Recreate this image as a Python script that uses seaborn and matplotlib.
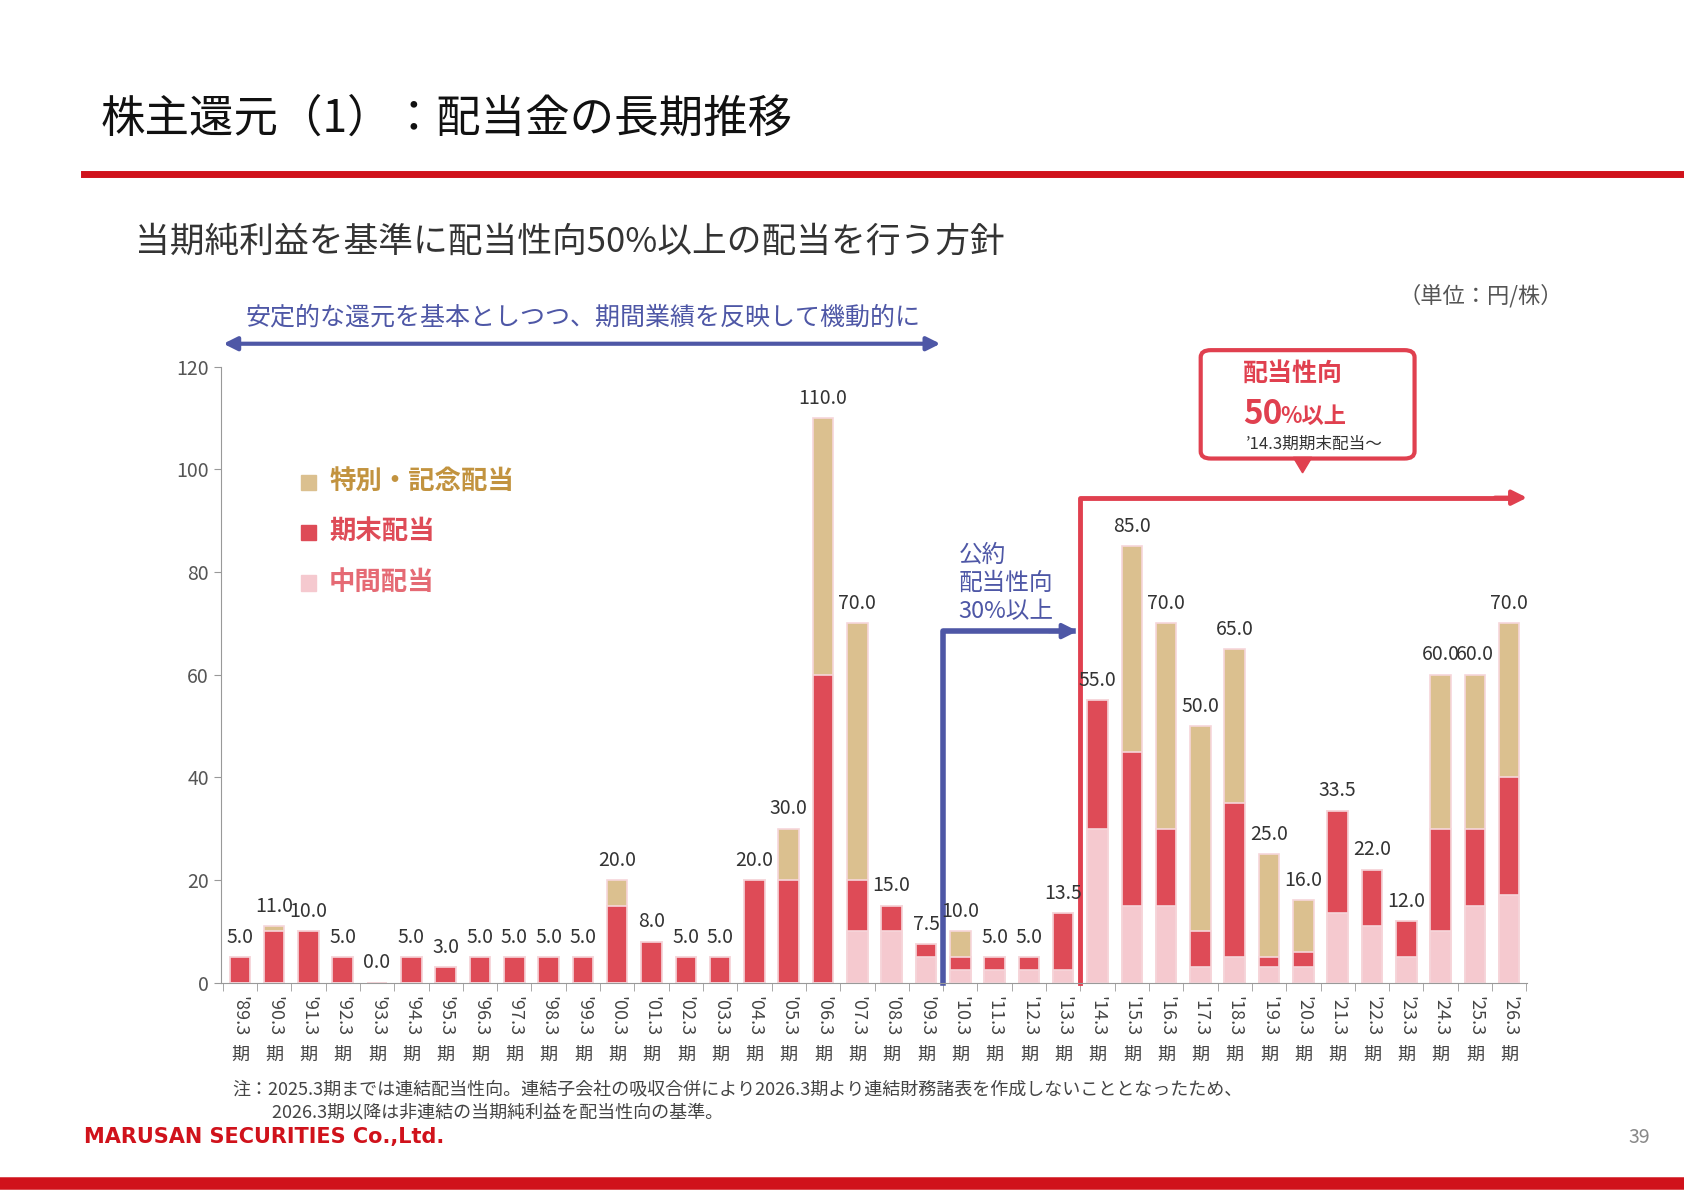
import numpy as np
import pandas as pd
import matplotlib.pyplot as plt
import seaborn as sns
from matplotlib.patches import FancyBboxPatch, Rectangle, Polygon

periods = ["'89.3", "'90.3", "'91.3", "'92.3", "'93.3", "'94.3", "'95.3", "'96.3", "'97.3", "'98.3",
           "'99.3", "'00.3", "'01.3", "'02.3", "'03.3", "'04.3", "'05.3", "'06.3", "'07.3", "'08.3",
           "'09.3", "'10.3", "'11.3", "'12.3", "'13.3", "'14.3", "'15.3", "'16.3", "'17.3", "'18.3",
           "'19.3", "'20.3", "'21.3", "'22.3", "'23.3", "'24.3", "'25.3", "'26.3"]
interim = [0, 0, 0, 0, 0, 0, 0, 0, 0, 0, 0, 0, 0, 0, 0, 0, 0, 0, 10, 10,
           5, 2.5, 2.5, 2.5, 2.5, 30, 15, 15, 3, 5, 3, 3, 13.5, 11, 5, 10, 15, 17]
year_end = [5, 10, 10, 5, 0, 5, 3, 5, 5, 5, 5, 15, 8, 5, 5, 20, 20, 60, 10, 5,
            2.5, 2.5, 2.5, 2.5, 11, 25, 30, 15, 7, 30, 2, 3, 20, 11, 7, 20, 15, 23]
special = [0, 1, 0, 0, 0, 0, 0, 0, 0, 0, 0, 5, 0, 0, 0, 0, 10, 50, 50, 0,
           0, 5, 0, 0, 0, 0, 40, 40, 40, 30, 20, 10, 0, 0, 0, 30, 30, 30]

C_SPEC, C_END, C_INT = '#dbc08f', '#de4b57', '#f5c9cf'
BLUE, RED = '#4e57a6', '#e0404f'

plt.rcParams['font.family'] = ['Noto Sans CJK JP', 'DejaVu Sans']

df = pd.DataFrame({'period': periods, 'interim': interim, 'end': year_end, 'special': special})
df['low'] = df['interim']
df['mid'] = df['interim'] + df['end']
df['total'] = df['mid'] + df['special']

fig = plt.figure(figsize=(16.84, 11.91), dpi=100)
ax = fig.add_axes([0.131, 0.175, 0.776, 0.517])
for col, c in [('total', C_SPEC), ('mid', C_END), ('low', C_INT)]:
    sns.barplot(data=df, x='period', y=col, color=c, width=0.6, saturation=1,
                edgecolor='#f6d6da', linewidth=1.2, ax=ax)
for i, t in enumerate(df['total']):
    ax.text(i, t + 1.8, f'{t:.1f}', ha='center', va='bottom', fontsize=14, color='#333333')

ax.set_xlim(-0.56, 37.53)
ax.set_ylim(0, 120)
ax.set_yticks(range(0, 121, 20))
ax.tick_params(axis='y', labelsize=14, colors='#555555', length=5, color='#999999')
ax.set_xticks(np.arange(-0.5, 37.6, 1), minor=True)
ax.set_xticks(range(len(periods)))
ax.set_xticklabels([])
ax.tick_params(axis='x', which='major', length=0)
ax.tick_params(axis='x', which='minor', length=6, color='#999999')
xt = ax.get_xaxis_transform()
for i, p in enumerate(periods):
    ax.text(i, -0.022, p, rotation=270, ha='center', va='top', fontsize=13, color='#444444', transform=xt)
    ax.text(i, -0.117, '期', ha='center', va='center', fontsize=13, color='#444444', transform=xt)
for s in ['top', 'right']:
    ax.spines[s].set_visible(False)
for s in ['left', 'bottom']:
    ax.spines[s].set_color('#999999')
ax.set_xlabel('')
ax.set_ylabel('')

# blue policy line
ax.plot([20.5, 20.5, 24.3], [0, 68.5, 68.5], color=BLUE, lw=4, clip_on=False)
ax.annotate('', xy=(24.5, 68.5), xytext=(23.5, 68.5),
            arrowprops=dict(arrowstyle='-|>', color=BLUE, lw=3, mutation_scale=22))
ax.text(20.95, 70, '公約\n配当性向\n30%以上', color=BLUE, fontsize=17, va='bottom', linespacing=1.3)
# red policy line
ax.plot([24.5, 24.5, 37.2], [0, 94.5, 94.5], color=RED, lw=3.5, clip_on=False)
ax.annotate('', xy=(37.6, 94.5), xytext=(36.5, 94.5),
            arrowprops=dict(arrowstyle='-|>', color=RED, lw=3, mutation_scale=22), annotation_clip=False)
# top blue double arrow
ax.annotate('', xy=(-0.56, 124.5), xytext=(20.5, 124.5),
            arrowprops=dict(arrowstyle='<|-|>', color=BLUE, lw=3, mutation_scale=20), annotation_clip=False)
ax.text(10, 127, '安定的な還元を基本としつつ、期間業績を反映して機動的に', color=BLUE, fontsize=18,
        ha='center', va='bottom')

# legend
for k, (lab, c, tc) in enumerate([('特別・記念配当', C_SPEC, '#c2933f'), ('期末配当', C_END, C_END),
                                   ('中間配当', C_INT, '#e56a74')]):
    y = 97.5 - k * 9.8
    ax.add_patch(Rectangle((1.77, y - 1.5), 0.45, 3, color=c, clip_on=False))
    ax.text(2.6, y, lab, color=tc, fontsize=19, fontweight='bold', va='center')

# callout box
fig.patches.append(FancyBboxPatch((0.713, 0.615), 0.127, 0.091, transform=fig.transFigure,
                                  boxstyle='round,pad=0,rounding_size=0.006', fc='white', ec=RED, lw=3))
fig.patches.append(Polygon([(0.768, 0.616), (0.779, 0.616), (0.7735, 0.603)], closed=True,
                           transform=fig.transFigure, fc=RED, ec=RED))
fig.text(0.738, 0.686, '配当性向', color=RED, fontsize=18, fontweight='bold', va='center')
fig.text(0.738, 0.652, '50', color=RED, fontsize=24, fontweight='bold', va='center')
fig.text(0.760, 0.650, '%以上', color=RED, fontsize=16, fontweight='bold', va='center')
fig.text(0.740, 0.627, '’14.3期期末配当～', color='#333333', fontsize=12, va='center')

# page texts
fig.text(0.06, 0.9, '株主還元（1）：配当金の長期推移', fontsize=32, va='center', color='#111111')
fig.add_artist(plt.Line2D([0.05, 1.0], [0.854, 0.854], color='#d0121b', lw=5, transform=fig.transFigure))
fig.text(0.08, 0.797, '当期純利益を基準に配当性向50%以上の配当を行う方針', fontsize=25, va='center', color='#333333')
fig.text(0.928, 0.752, '（単位：円/株）', fontsize=16, ha='right', va='center', color='#555555')
fig.text(0.138, 0.076, '注：2025.3期までは連結配当性向。連結子会社の吸収合併により2026.3期より連結財務諸表を作成しないこととなったため、\n'
         '　　 2026.3期以降は非連結の当期純利益を配当性向の基準。', fontsize=13, va='center',
         color='#444444', linespacing=1.35)
fig.text(0.05, 0.045, 'MARUSAN SECURITIES Co.,Ltd.', fontsize=15, fontweight='bold', color='#d0121b',
         va='center', family='DejaVu Sans')
fig.text(0.98, 0.045, '39', fontsize=14, color='#888888', ha='right', va='center')
fig.add_artist(plt.Line2D([0, 1.0], [0.007, 0.007], color='#d0121b', lw=9, transform=fig.transFigure))

fig.savefig('out.png', dpi=100)
